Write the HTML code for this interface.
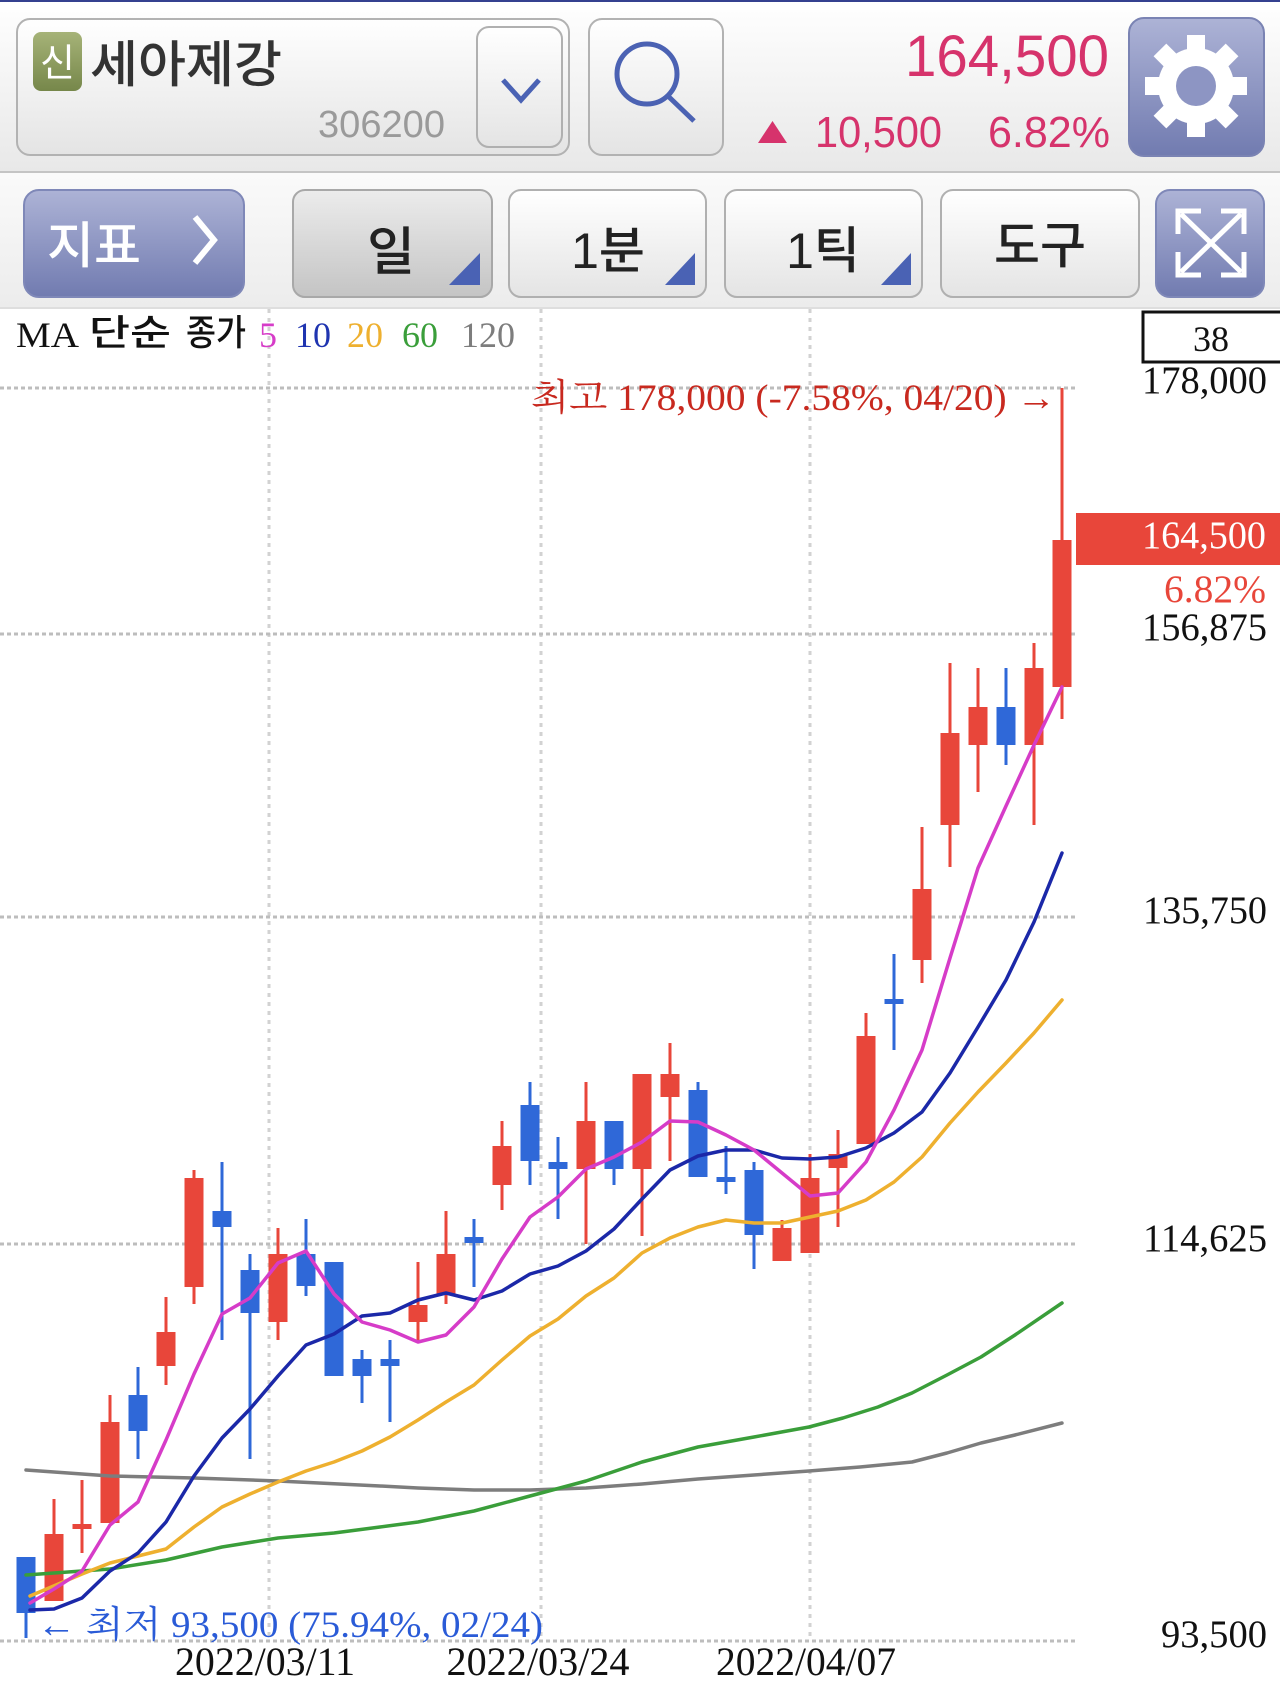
<!DOCTYPE html>
<html><head><meta charset="utf-8"><style>
html,body{margin:0;padding:0;background:#fff;}
svg{display:block;}
.kr{font-family:"Liberation Sans","Noto Sans CJK KR",sans-serif;}
.sf{font-family:"Liberation Serif","Noto Serif CJK SC","Noto Sans CJK KR",serif;}
</style></head><body>
<svg width="1280" height="1690" viewBox="0 0 1280 1690" xmlns="http://www.w3.org/2000/svg">
<defs>
<linearGradient id="hdr" x1="0" y1="0" x2="0" y2="1"><stop offset="0" stop-color="#ffffff"/><stop offset="1" stop-color="#e8e8e8"/></linearGradient>
<linearGradient id="tb" x1="0" y1="0" x2="0" y2="1"><stop offset="0" stop-color="#fafafa"/><stop offset="1" stop-color="#ececec"/></linearGradient>
<linearGradient id="bw" x1="0" y1="0" x2="0" y2="1"><stop offset="0" stop-color="#ffffff"/><stop offset="1" stop-color="#e4e4e4"/></linearGradient>
<linearGradient id="bp" x1="0" y1="0" x2="0" y2="1"><stop offset="0" stop-color="#ececec"/><stop offset="1" stop-color="#c4c4c4"/></linearGradient>
<linearGradient id="bb" x1="0" y1="0" x2="0" y2="1"><stop offset="0" stop-color="#adb3d6"/><stop offset="1" stop-color="#717bb0"/></linearGradient>
<linearGradient id="ol" x1="0" y1="0" x2="0" y2="1"><stop offset="0" stop-color="#a6b378"/><stop offset="1" stop-color="#76874a"/></linearGradient>
</defs>

<!-- header -->
<rect x="0" y="0" width="1280" height="172" fill="url(#hdr)"/>
<rect x="0" y="0" width="1280" height="2" fill="#34408f"/>
<rect x="0" y="171" width="1280" height="2" fill="#c4c4c4"/>
<rect x="0" y="173" width="1280" height="135" fill="url(#tb)"/>
<rect x="0" y="307" width="1280" height="2" fill="#dedede"/>

<!-- stock name box -->
<rect x="17" y="19" width="552" height="136" rx="13" fill="url(#bw)" stroke="#b2b2b2" stroke-width="2"/>
<rect x="33" y="32" width="49" height="59" rx="8" fill="url(#ol)"/>
<text x="57.5" y="76" class="kr" font-size="38" fill="#fff" text-anchor="middle">신</text>
<text x="90" y="82" class="kr" font-size="50" font-weight="500" fill="#333" textLength="192" lengthAdjust="spacingAndGlyphs">세아제강</text>
<text x="318" y="137" font-family="Liberation Sans, sans-serif" font-size="38" fill="#9a9a9a" textLength="127" lengthAdjust="spacingAndGlyphs">306200</text>
<rect x="477" y="27" width="85" height="120" rx="12" fill="url(#bw)" stroke="#b0b0b0" stroke-width="2"/>
<polyline points="503,80 521,100 539,80" fill="none" stroke="#4a62b4" stroke-width="5"/>

<!-- search -->
<rect x="589" y="19" width="134" height="136" rx="13" fill="url(#bw)" stroke="#b2b2b2" stroke-width="2"/>
<circle cx="647" cy="74" r="30" fill="none" stroke="#4b62b3" stroke-width="5"/>
<line x1="669" y1="97" x2="694" y2="121" stroke="#4b62b3" stroke-width="5"/>

<!-- price -->
<text x="1109" y="76" font-family="Liberation Sans, sans-serif" font-size="58" fill="#d6336c" text-anchor="end" textLength="204" lengthAdjust="spacingAndGlyphs">164,500</text>
<polygon points="758,143 787,143 772.5,121" fill="#d6336c"/>
<text x="815" y="147" font-family="Liberation Sans, sans-serif" font-size="44" fill="#d6336c" textLength="127" lengthAdjust="spacingAndGlyphs">10,500</text>
<text x="988" y="147" font-family="Liberation Sans, sans-serif" font-size="44" fill="#d6336c" textLength="122" lengthAdjust="spacingAndGlyphs">6.82%</text>

<!-- gear -->
<rect x="1129" y="18" width="135" height="138" rx="15" fill="url(#bb)" stroke="#7a83b3" stroke-width="2"/>
<g transform="translate(1196,86)" fill="#fff">
<circle r="38"/>
<rect x="-9" y="-51" width="18" height="24"/>
<rect x="-9" y="-51" width="18" height="24" transform="rotate(45)"/>
<rect x="-9" y="-51" width="18" height="24" transform="rotate(90)"/>
<rect x="-9" y="-51" width="18" height="24" transform="rotate(135)"/>
<rect x="-9" y="-51" width="18" height="24" transform="rotate(180)"/>
<rect x="-9" y="-51" width="18" height="24" transform="rotate(225)"/>
<rect x="-9" y="-51" width="18" height="24" transform="rotate(270)"/>
<rect x="-9" y="-51" width="18" height="24" transform="rotate(315)"/>
<circle r="20" fill="#8d95c3"/>
</g>

<!-- toolbar -->
<rect x="24" y="190" width="220" height="107" rx="15" fill="url(#bb)" stroke="#7f88b8" stroke-width="2"/>
<text x="47" y="263" class="kr" font-size="50" font-weight="500" fill="#fff" textLength="94" lengthAdjust="spacingAndGlyphs">지표</text>
<polyline points="195,217 214,240 195,263" fill="none" stroke="#fff" stroke-width="6"/>

<rect x="293" y="190" width="199" height="107" rx="12" fill="url(#bp)" stroke="#a8a8a8" stroke-width="2"/>
<text x="391" y="270" class="kr" font-size="52" font-weight="500" fill="#222" text-anchor="middle">일</text>
<polygon points="480,253 480,285 449,285" fill="#4a62b4"/>

<rect x="509" y="190" width="197" height="107" rx="12" fill="url(#bw)" stroke="#b0b0b0" stroke-width="2"/>
<text x="608" y="268" class="kr" font-size="50" font-weight="500" fill="#222" text-anchor="middle">1분</text>
<polygon points="695,253 695,285 665,285" fill="#4a62b4"/>

<rect x="725" y="190" width="197" height="107" rx="12" fill="url(#bw)" stroke="#b0b0b0" stroke-width="2"/>
<text x="823" y="268" class="kr" font-size="50" font-weight="500" fill="#222" text-anchor="middle">1틱</text>
<polygon points="911,253 911,285 881,285" fill="#4a62b4"/>

<rect x="941" y="190" width="198" height="107" rx="12" fill="url(#bw)" stroke="#b0b0b0" stroke-width="2"/>
<text x="1040" y="263" class="kr" font-size="50" font-weight="500" fill="#222" text-anchor="middle">도구</text>

<rect x="1156" y="190" width="108" height="107" rx="14" fill="url(#bb)" stroke="#7f88b8" stroke-width="2"/>
<g stroke="#fff" stroke-width="5" fill="none">
<line x1="1181" y1="214" x2="1241" y2="272"/>
<line x1="1241" y1="214" x2="1181" y2="272"/>
<polyline points="1178,234 1178,211 1201,211"/>
<polyline points="1221,211 1244,211 1244,234"/>
<polyline points="1178,252 1178,275 1201,275"/>
<polyline points="1221,275 1244,275 1244,252"/>
</g>

<!-- chart area -->
<rect x="0" y="309" width="1280" height="1381" fill="#fff"/>

<!-- grid -->
<g stroke="#d2d2d2" stroke-width="3" stroke-dasharray="4 5">
<line x1="269" y1="309" x2="269" y2="1641"/>
<line x1="541" y1="309" x2="541" y2="1641"/>
<line x1="810" y1="309" x2="810" y2="1641"/>
</g>
<g stroke="#bdbdbd" stroke-width="3" stroke-dasharray="4 3">
<line x1="0" y1="388" x2="1077" y2="388"/>
<line x1="0" y1="634" x2="1077" y2="634"/>
<line x1="0" y1="917" x2="1077" y2="917"/>
<line x1="0" y1="1244" x2="1077" y2="1244"/>
<line x1="0" y1="1641" x2="1077" y2="1641"/>
</g>

<!-- legend -->
<text x="16" y="347" class="sf" font-size="36" fill="#111" textLength="63" lengthAdjust="spacingAndGlyphs">MA</text>
<text x="89" y="345" class="kr" font-size="36" font-weight="500" fill="#111" textLength="82" lengthAdjust="spacingAndGlyphs">단순</text>
<text x="186" y="345" class="kr" font-size="36" font-weight="500" fill="#111" textLength="60" lengthAdjust="spacingAndGlyphs">종가</text>
<text x="259" y="347" class="sf" font-size="36" fill="#d63cc8">5</text>
<text x="295" y="347" class="sf" font-size="36" fill="#1f34b0">10</text>
<text x="347" y="347" class="sf" font-size="36" fill="#eeb02f">20</text>
<text x="402" y="347" class="sf" font-size="36" fill="#3a9e3a">60</text>
<text x="461" y="347" class="sf" font-size="36" fill="#7d7d7d">120</text>

<!-- candles -->
<g stroke-width="3">
<g stroke="#2f68d8">
<line x1="26" y1="1557" x2="26" y2="1638"/>
<line x1="138" y1="1367" x2="138" y2="1459"/>
<line x1="222" y1="1162" x2="222" y2="1340"/>
<line x1="250" y1="1254" x2="250" y2="1459"/>
<line x1="306" y1="1219" x2="306" y2="1296"/>
<line x1="362" y1="1350" x2="362" y2="1403"/>
<line x1="390" y1="1340" x2="390" y2="1422"/>
<line x1="474" y1="1219" x2="474" y2="1287"/>
<line x1="530" y1="1082" x2="530" y2="1185"/>
<line x1="558" y1="1137" x2="558" y2="1219"/>
<line x1="614" y1="1121" x2="614" y2="1185"/>
<line x1="698" y1="1082" x2="698" y2="1177"/>
<line x1="726" y1="1146" x2="726" y2="1194"/>
<line x1="754" y1="1162" x2="754" y2="1269"/>
<line x1="894" y1="954" x2="894" y2="1050"/>
<line x1="1006" y1="668" x2="1006" y2="765"/>
</g>
<g stroke="#e8463a">
<line x1="54" y1="1499" x2="54" y2="1601"/>
<line x1="82" y1="1480" x2="82" y2="1553"/>
<line x1="110" y1="1395" x2="110" y2="1523"/>
<line x1="166" y1="1297" x2="166" y2="1385"/>
<line x1="194" y1="1170" x2="194" y2="1304"/>
<line x1="278" y1="1228" x2="278" y2="1340"/>
<line x1="418" y1="1262" x2="418" y2="1343"/>
<line x1="446" y1="1211" x2="446" y2="1304"/>
<line x1="502" y1="1121" x2="502" y2="1210"/>
<line x1="586" y1="1082" x2="586" y2="1244"/>
<line x1="642" y1="1074" x2="642" y2="1236"/>
<line x1="670" y1="1043" x2="670" y2="1161"/>
<line x1="782" y1="1220" x2="782" y2="1261"/>
<line x1="810" y1="1154" x2="810" y2="1253"/>
<line x1="838" y1="1130" x2="838" y2="1227"/>
<line x1="866" y1="1013" x2="866" y2="1144"/>
<line x1="922" y1="827" x2="922" y2="983"/>
<line x1="950" y1="663" x2="950" y2="867"/>
<line x1="978" y1="668" x2="978" y2="792"/>
<line x1="1034" y1="643" x2="1034" y2="825"/>
<line x1="1062" y1="388" x2="1062" y2="719"/>
</g>
</g>
<g fill="#2f68d8">
<rect x="16.5" y="1557" width="19" height="56"/>
<rect x="128.5" y="1395" width="19" height="36"/>
<rect x="212.5" y="1211" width="19" height="16"/>
<rect x="240.5" y="1270" width="19" height="43"/>
<rect x="296.5" y="1254" width="19" height="32"/>
<rect x="324.5" y="1262" width="19" height="114"/>
<rect x="352.5" y="1359" width="19" height="17"/>
<rect x="380.5" y="1359" width="19" height="7"/>
<rect x="464.5" y="1237" width="19" height="6"/>
<rect x="520.5" y="1105" width="19" height="56"/>
<rect x="548.5" y="1162" width="19" height="7"/>
<rect x="604.5" y="1121" width="19" height="48"/>
<rect x="688.5" y="1090" width="19" height="87"/>
<rect x="716.5" y="1177" width="19" height="5"/>
<rect x="744.5" y="1170" width="19" height="65"/>
<rect x="884.5" y="999" width="19" height="5"/>
<rect x="996.5" y="707" width="19" height="38"/>
</g>
<g fill="#e8463a">
<rect x="44.5" y="1534" width="19" height="67"/>
<rect x="72.5" y="1524" width="19" height="5"/>
<rect x="100.5" y="1422" width="19" height="101"/>
<rect x="156.5" y="1332" width="19" height="34"/>
<rect x="184.5" y="1178" width="19" height="109"/>
<rect x="268.5" y="1254" width="19" height="68"/>
<rect x="408.5" y="1305" width="19" height="17"/>
<rect x="436.5" y="1254" width="19" height="41"/>
<rect x="492.5" y="1146" width="19" height="39"/>
<rect x="576.5" y="1121" width="19" height="48"/>
<rect x="632.5" y="1074" width="19" height="95"/>
<rect x="660.5" y="1074" width="19" height="23"/>
<rect x="772.5" y="1228" width="19" height="33"/>
<rect x="800.5" y="1178" width="19" height="75"/>
<rect x="828.5" y="1154" width="19" height="14"/>
<rect x="856.5" y="1036" width="19" height="108"/>
<rect x="912.5" y="889" width="19" height="71"/>
<rect x="940.5" y="733" width="19" height="92"/>
<rect x="968.5" y="707" width="19" height="38"/>
<rect x="1024.5" y="668" width="19" height="77"/>
<rect x="1052.5" y="540" width="19" height="147"/>
</g>

<!-- moving averages -->
<g fill="none" stroke-width="3.5" stroke-linejoin="round" stroke-linecap="round">
<polyline stroke="#7d7d7d" points="26,1470 110,1476 194,1478 278,1481 380,1486 418,1488 474,1490 530,1490 586,1488 642,1484 698,1479 754,1475 809,1471 860,1467 912,1462 947,1453 981,1443 1015,1435 1062,1423"/>
<polyline stroke="#3a9e3a" points="26,1575 82,1571 110,1569 166,1560 222,1547 278,1538 334,1533 380,1527 418,1522 474,1511 530,1496 586,1481 642,1462 698,1447 754,1437 809,1427 843,1418 878,1407 912,1393 947,1375 981,1357 1015,1335 1062,1303"/>
<polyline stroke="#eeb02f" points="30,1596 82,1574 110,1563 138,1556 166,1549 194,1527 222,1507 250,1494 278,1482 306,1471 334,1462 362,1451 390,1437 418,1420 446,1402 474,1385 502,1360 530,1336 558,1319 586,1296 614,1278 642,1253 670,1238 698,1227 726,1220 754,1223 782,1223 810,1217 838,1211 866,1200 894,1182 922,1157 950,1123 978,1092 1006,1063 1034,1033 1062,1000"/>
<polyline stroke="#1b28a8" points="30,1610 54,1609 82,1598 110,1571 138,1553 166,1522 194,1476 222,1438 250,1409 278,1376 306,1345 334,1334 362,1316 390,1313 418,1300 446,1293 474,1300 502,1291 530,1274 558,1266 586,1251 614,1229 642,1199 670,1170 698,1156 726,1150 754,1150 782,1158 810,1159 838,1157 866,1148 894,1133 922,1112 950,1073 978,1027 1006,980 1034,922 1062,853"/>
<polyline stroke="#d63cc8" points="30,1603 54,1589 82,1571 110,1525 138,1502 166,1440 194,1374 222,1314 250,1298 278,1263 306,1251 334,1294 362,1322 390,1330 418,1342 446,1335 474,1307 502,1259 530,1217 558,1197 586,1169 614,1157 642,1142 670,1121 698,1122 726,1135 754,1150 782,1173 810,1196 838,1193 866,1162 894,1110 922,1050 950,958 978,868 1006,806 1034,745 1062,687"/>
</g>

<!-- annotations -->
<text x="531" y="410" class="sf" font-size="37" fill="#c8291f" textLength="525" lengthAdjust="spacingAndGlyphs">최고 178,000 (-7.58%, 04/20) →</text>
<text x="37" y="1637" class="sf" font-size="37" fill="#2a5bd7" textLength="506" lengthAdjust="spacingAndGlyphs">← 최저 93,500 (75.94%, 02/24)</text>

<!-- right axis -->
<rect x="1143" y="312" width="140" height="50" fill="#fff" stroke="#111" stroke-width="3"/>
<text x="1211" y="351" class="sf" font-size="36" fill="#111" text-anchor="middle">38</text>
<g class="sf" font-size="39" fill="#111" text-anchor="end">
<text x="1267" y="393" textLength="125" lengthAdjust="spacingAndGlyphs">178,000</text>
<text x="1267" y="640" textLength="125" lengthAdjust="spacingAndGlyphs">156,875</text>
<text x="1267" y="923" textLength="124" lengthAdjust="spacingAndGlyphs">135,750</text>
<text x="1267" y="1251" textLength="124" lengthAdjust="spacingAndGlyphs">114,625</text>
<text x="1267" y="1647" textLength="106" lengthAdjust="spacingAndGlyphs">93,500</text>
</g>
<rect x="1076" y="513" width="204" height="52" fill="#e8463a"/>
<text x="1266" y="548" class="sf" font-size="39" fill="#fff" text-anchor="end" textLength="124" lengthAdjust="spacingAndGlyphs">164,500</text>
<text x="1266" y="602" class="sf" font-size="39" fill="#e8463a" text-anchor="end" textLength="102" lengthAdjust="spacingAndGlyphs">6.82%</text>

<!-- dates -->
<g class="sf" font-size="40" fill="#111" text-anchor="middle">
<text x="265" y="1675" textLength="180" lengthAdjust="spacingAndGlyphs">2022/03/11</text>
<text x="538" y="1675" textLength="183" lengthAdjust="spacingAndGlyphs">2022/03/24</text>
<text x="806" y="1675" textLength="180" lengthAdjust="spacingAndGlyphs">2022/04/07</text>
</g>
</svg>
</body></html>
